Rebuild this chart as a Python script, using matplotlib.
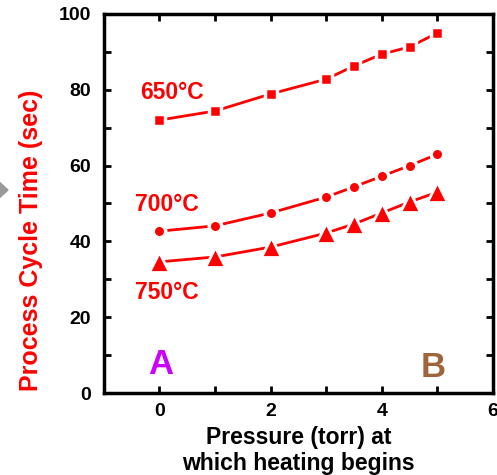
import matplotlib
matplotlib.use("Agg")
import matplotlib.pyplot as plt
from matplotlib.patches import Polygon
from matplotlib.ticker import MultipleLocator

plt.rcParams['font.family'] = ['Liberation Sans', 'DejaVu Sans']
plt.rcParams['font.weight'] = 'bold'

pressure = [0, 1, 2, 3, 3.5, 4, 4.5, 5]
t650 = [72.0, 74.4, 78.9, 82.8, 86.3, 89.4, 91.3, 95.0]
t700 = [42.7, 44.1, 47.5, 51.7, 54.4, 57.2, 60.0, 63.0]
t750 = [34.6, 35.9, 38.5, 42.2, 44.6, 47.5, 50.4, 53.0]

red = '#FF0000'
fig = plt.figure(figsize=(4.97, 4.75), dpi=100)
ax = fig.add_axes([0.209, 0.1726, 0.783, 0.798])

ax.plot(pressure, t650, color=red, lw=2, marker='s', ms=8.5, mec='white', mew=2.5, mfc=red)
ax.plot(pressure, t700, color=red, lw=2, marker='o', ms=9, mec='white', mew=2.5, mfc=red)
ax.plot(pressure, t750, color=red, lw=2, marker='^', ms=14, mec='white', mew=2.0, mfc=red)

ax.set_xlim(-1, 6)
ax.set_ylim(0, 100)
ax.xaxis.set_minor_locator(MultipleLocator(1))
ax.yaxis.set_minor_locator(MultipleLocator(10))
ax.set_xticks([0, 2, 4, 6])
ax.set_yticks([0, 20, 40, 60, 80, 100])
ax.tick_params(which='both', direction='in', top=True, right=True, length=5, width=2,
               labelsize=14)
ax.tick_params(axis='y', pad=9)
ax.tick_params(axis='x', pad=7)
for lab in ax.get_xticklabels() + ax.get_yticklabels():
    lab.set_fontweight('bold')
for s in ax.spines.values():
    s.set_linewidth(2.5)

ax.set_xlabel('Pressure (torr) at\nwhich heating begins', fontsize=16.5, fontweight='bold',
              linespacing=1.15)
ax.xaxis.set_label_coords(0.5, -0.088)
ax.set_ylabel('Process Cycle Time (sec)', fontsize=18, fontweight='bold', color=red)
ax.yaxis.set_label_coords(-0.157, 0.404)

ax.text(0.23, 79.2, '650°C', color=red, fontsize=16.5, fontweight='bold', ha='center', va='center')
ax.text(0.13, 49.8, '700°C', color=red, fontsize=16.5, fontweight='bold', ha='center', va='center')
ax.text(0.14, 26.6, '750°C', color=red, fontsize=16.5, fontweight='bold', ha='center', va='center')
ax.text(0.02, 7.4, 'A', color='#CC00FF', fontsize=25, fontweight='bold', ha='center', va='center')
ax.text(4.93, 6.6, 'B', color='#A0643A', fontsize=25, fontweight='bold', ha='center', va='center')

tri = Polygon([[-3 / 497, 1 - 180 / 475], [8 / 497, 1 - 190 / 475], [-3 / 497, 1 - 200 / 475]],
              closed=True, transform=fig.transFigure, color='#999999')
fig.patches.append(tri)

fig.savefig('out.png', dpi=100)
